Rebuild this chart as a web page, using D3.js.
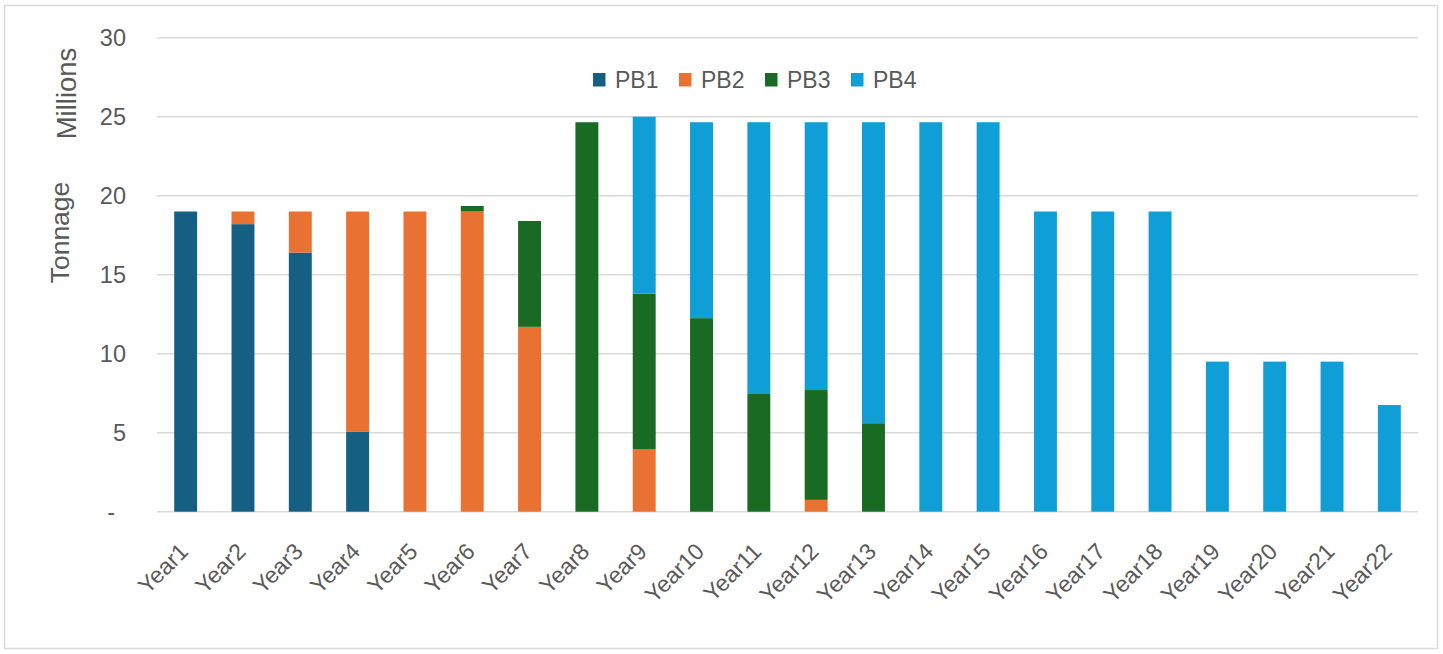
<!DOCTYPE html>
<html>
<head>
<meta charset="utf-8">
<script src="https://cdn.jsdelivr.net/npm/d3@7"></script>
<style>
  html, body { margin: 0; padding: 0; background: #ffffff; }
  svg { display: block; font-family: "Liberation Sans", Arial, sans-serif; }
</style>
</head>
<body>
<svg id="chart" width="1443" height="654"></svg>
<script>
// ---- Data ----
const years = ["Year1","Year2","Year3","Year4","Year5","Year6","Year7","Year8","Year9","Year10","Year11",
               "Year12","Year13","Year14","Year15","Year16","Year17","Year18","Year19","Year20","Year21","Year22"];
const seriesNames = ["PB1", "PB2", "PB3", "PB4"];
const pb1 = [19.0, 18.2, 16.4, 5.05, 0, 0, 0, 0, 0, 0, 0, 0, 0, 0, 0, 0, 0, 0, 0, 0, 0, 0];
const pb2 = [0, 0.8, 2.6, 13.95, 19.0, 19.0, 11.7, 0, 3.95, 0, 0, 0.75, 0, 0, 0, 0, 0, 0, 0, 0, 0, 0];
const pb3 = [0, 0, 0, 0, 0, 0.35, 6.7, 24.65, 9.85, 12.25, 7.45, 6.95, 5.6, 0, 0, 0, 0, 0, 0, 0, 0, 0];
const pb4 = [0, 0, 0, 0, 0, 0, 0, 0, 11.2, 12.4, 17.2, 16.95, 19.05, 24.65, 24.65, 19.0, 19.0, 19.0, 9.5, 9.5, 9.5, 6.75];
const yTicks = [0, 5, 10, 15, 20, 25, 30];
const yTickLabels = ["-", "5", "10", "15", "20", "25", "30"];
const colors = ["#156082", "#E97132", "#196B24", "#0F9ED5"];

// ---- Build table ----
const seriesValues = [pb1, pb2, pb3, pb4];
const table = years.map((y, i) => {
  const row = { year: y };
  seriesNames.forEach((s, k) => row[s] = seriesValues[k][i]);
  return row;
});

const svg = d3.select("#chart");
const textColor = "#595959";
const gridColor = "#D9D9D9";

// frame
svg.append("rect").attr("x", 4.5).attr("y", 5.5).attr("width", 1433).attr("height", 643)
  .attr("fill", "#fff").attr("stroke", gridColor).attr("stroke-width", 1.5);

const plot = { left: 157, right: 1418, top: 37.7, bottom: 511.7 };

const x = d3.scaleBand().domain(years).range([plot.left, plot.right])
  .paddingInner(0.6).paddingOuter(0.3);
const y = d3.scaleLinear().domain([0, 30]).range([plot.bottom, plot.top]);
const color = d3.scaleOrdinal().domain(seriesNames).range(colors);

// gridlines
svg.append("g").selectAll("line").data(yTicks).join("line")
  .attr("x1", plot.left).attr("x2", plot.right)
  .attr("y1", d => y(d)).attr("y2", d => y(d))
  .attr("stroke", gridColor).attr("stroke-width", 1.5);

// y tick labels
svg.append("g").selectAll("text").data(yTicks).join("text")
  .attr("x", (d, i) => d === 0 ? 115 : 126)
  .attr("y", d => y(d))
  .attr("dy", "0.36em")
  .attr("text-anchor", "end")
  .attr("font-size", 23.5)
  .attr("fill", textColor)
  .text((d, i) => yTickLabels[i]);

// stacked bars
const stacked = d3.stack().keys(seriesNames)(table);
svg.append("g").selectAll("g").data(stacked).join("g")
  .attr("fill", d => color(d.key))
  .selectAll("rect").data(d => d.filter(p => p[1] - p[0] > 0)).join("rect")
  .attr("x", d => x(d.data.year))
  .attr("width", x.bandwidth())
  .attr("y", d => y(d[1]))
  .attr("height", d => y(d[0]) - y(d[1]));

// x labels
svg.append("g").selectAll("text").data(years).join("text")
  .attr("transform", d => `translate(${x(d) + x.bandwidth() / 2 + 4}, 553) rotate(-45)`)
  .attr("text-anchor", "end")
  .attr("font-size", 23)
  .attr("fill", textColor)
  .text(d => d);

// axis title and display units
svg.append("text")
  .attr("transform", "translate(69, 232.5) rotate(-90)")
  .attr("text-anchor", "middle")
  .attr("font-size", 26.5)
  .attr("fill", textColor)
  .text("Tonnage");
svg.append("text")
  .attr("transform", "translate(76, 93.5) rotate(-90)")
  .attr("text-anchor", "middle")
  .attr("font-size", 27.5)
  .attr("fill", textColor)
  .text("Millions");

// legend
const legend = svg.append("g").selectAll("g").data(seriesNames).join("g")
  .attr("transform", (d, i) => `translate(${593 + i * 86}, 73)`);
legend.append("rect").attr("width", 12.5).attr("height", 13.5).attr("fill", d => color(d));
legend.append("text")
  .attr("x", 22).attr("y", 14.5)
  .attr("font-size", 23)
  .attr("fill", textColor)
  .text(d => d);
</script>
</body>
</html>
